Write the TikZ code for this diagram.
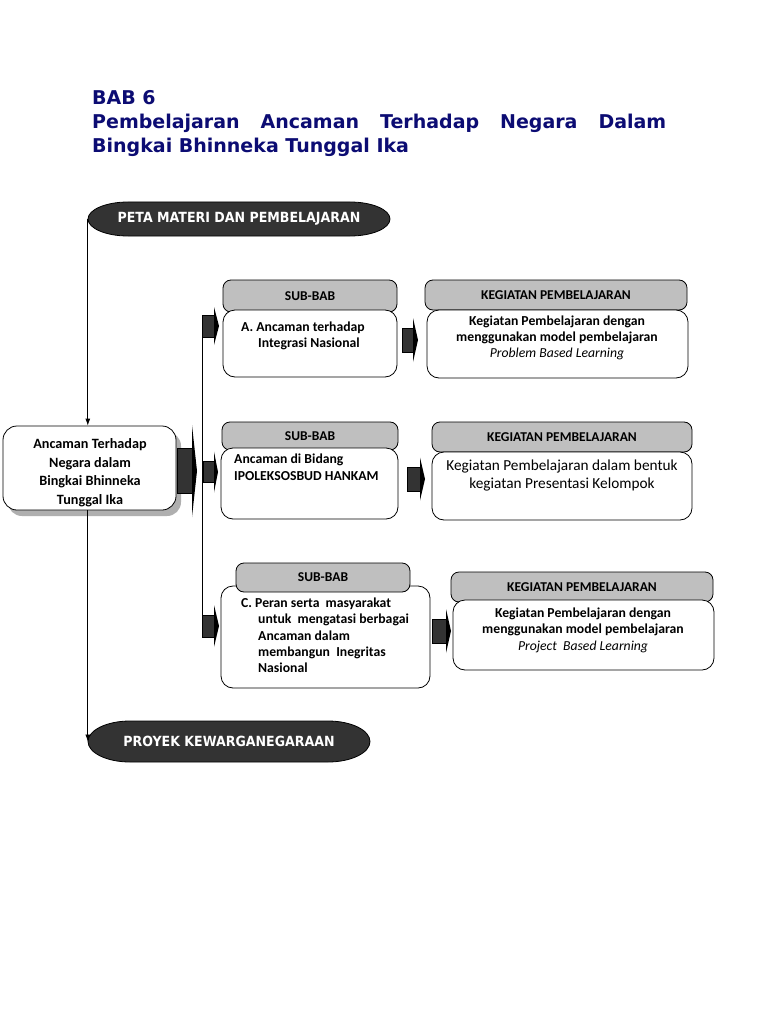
\documentclass[tikz,border=0pt]{standalone}
\usepackage{fontspec}
\setmainfont{Carlito}
\newfontfamily\tah[FakeStretch=0.9]{DejaVu Sans}
\newfontfamily\tahw{DejaVu Sans}
\usetikzlibrary{arrows.meta,calc,shadows}
\definecolor{navy}{RGB}{12,12,115}
\definecolor{hdr}{RGB}{191,191,191}
\definecolor{dk}{RGB}{51,51,51}
\definecolor{shd}{RGB}{175,175,175}
% block arrow: x0 x1 xtip cy shafthalf headhalf
\newcommand\blkarr[6]{%
  \filldraw[fill=dk,draw=black,line width=0.6pt] (#1,{#4-#5}) rectangle (#2,{#4+#5});
  \fill[black] (#2,{#4-#6}) .. controls ({#2+0.4*(#3-#2)},{#4-0.5*#6}) .. (#3,#4)
     .. controls ({#2+0.4*(#3-#2)},{#4+0.5*#6}) .. (#2,{#4+#6}) -- cycle;}
\tikzset{
  ttl/.style={font=\tahw\bfseries\fontsize{19}{23}\selectfont, text=navy, inner sep=0pt},
  captxt/.style={font=\tah\bfseries\fontsize{14}{16}\selectfont, text=white, inner sep=0pt},
  hdrbox/.style={draw=black, line width=0.8pt, fill=hdr, rounded corners=8pt, inner sep=0pt,
     font=\bfseries\fontsize{13.5}{15}\selectfont},
  cntbox/.style={draw=black, line width=0.8pt, fill=white, rounded corners=12pt, inner sep=0pt},
  boxtxt/.style={inner sep=0pt, font=\bfseries\fontsize{13.7}{16.3}\selectfont},
  conn/.style={draw=black, line width=0.8pt},
  tip/.style={-{Latex[length=7pt,width=5pt]}},
}
\begin{document}
\begin{tikzpicture}[x=1pt,y=-1pt]
\fill[white] (0,0) rectangle (768,1024);
\useasboundingbox (0,0) rectangle (768,1024);

% title
\node[ttl, anchor=base west] (t1) at (92,105) {BAB 6};
\node[ttl, anchor=base west] (t2) at (92,129) {\makebox[574pt][s]{Pembelajaran Ancaman Terhadap Negara Dalam}};
\node[ttl, anchor=base west] (t3) at (92,153) {Bingkai Bhinneka Tunggal Ika};

% capsule shapes
\filldraw[fill=dk, draw=black, line width=0.8pt]
  (128,202) -- (350,202) .. controls (372,202) and (390,209.6) .. (390,219)
  .. controls (390,228.4) and (372,236) .. (350,236) -- (128,236)
  .. controls (106,236) and (88,228.4) .. (88,219)
  .. controls (88,209.6) and (106,202) .. (128,202) -- cycle;
\node[captxt, minimum width=302pt, minimum height=34pt] (peta) at (239,219) {PETA MATERI DAN PEMBELAJARAN};

\filldraw[fill=dk, draw=black, line width=0.8pt]
  (130,721) -- (328,721) .. controls (351.2,721) and (370,730.2) .. (370,741.5)
  .. controls (370,752.8) and (351.2,762) .. (328,762) -- (130,762)
  .. controls (106.8,762) and (88,752.8) .. (88,741.5)
  .. controls (88,730.2) and (106.8,721) .. (130,721) -- cycle;
\node[captxt, minimum width=282pt, minimum height=41pt] (proyek) at (229,741.5) {PROYEK KEWARGANEGARAAN};

% main box
\node[draw=black, line width=0.8pt, fill=white, rounded corners=14pt, minimum width=173pt, minimum height=84pt,
  inner sep=0pt,
  drop shadow={shadow xshift=5pt, shadow yshift=-6pt, fill=shd, opacity=1}]
  (main) at (89.5,468) {};
\node[inner sep=0pt, align=center, font=\bfseries\fontsize{14.2}{18.5}\selectfont] (maint) at (90,472.5)
  {Ancaman Terhadap\\Negara dalam\\Bingkai Bhinneka\\Tunggal Ika};

% connectors
\draw[conn, tip] (peta.west) -- (peta.west |- main.north);
\draw[conn, tip] (peta.west |- main.south) -- (proyek.west);
\coordinate (sp1) at (202,315);
\coordinate (sp2) at (202,637);
\draw[conn] (sp1) -- (sp2);

% sub-bab 1 / kegiatan 1
\node[hdrbox, minimum width=174pt, minimum height=32pt] (sbh1) at (310,296) {SUB-BAB};
\node[cntbox, minimum width=174pt, minimum height=67pt] (sb1) at (310,343.5) {};
\node[boxtxt, anchor=north west, align=left] (sbt1) at (241,321.6) {A. Ancaman terhadap\\\hspace*{17pt}Integrasi Nasional};
\node[hdrbox, minimum width=262pt, minimum height=30pt] (kgh1) at (556,295) {KEGIATAN PEMBELAJARAN};
\node[cntbox, minimum width=261pt, minimum height=68pt] (kg1) at (557.5,344) {};
\node[boxtxt, anchor=north, align=center] (kgt1) at (557,315.2) {Kegiatan Pembelajaran dengan\\menggunakan model pembelajaran\\\mdseries\itshape Problem Based Learning};

% sub-bab 2 / kegiatan 2
\node[hdrbox, minimum width=176pt, minimum height=28pt] (sbh2) at (310,436) {SUB-BAB};
\node[cntbox, minimum width=177pt, minimum height=71pt] (sb2) at (309.5,483.5) {};
\node[boxtxt, anchor=north west, align=left, font=\bfseries\fontsize{13.7}{17}\selectfont] (sbt2) at (234,453.3) {Ancaman di Bidang\\IPOLEKSOSBUD HANKAM};
\node[hdrbox, minimum width=260pt, minimum height=30pt] (kgh2) at (562,437) {KEGIATAN PEMBELAJARAN};
\node[cntbox, minimum width=260pt, minimum height=68pt] (kg2) at (562,486) {};
\node[boxtxt, anchor=north, align=center, font=\fontsize{15.3}{18}\selectfont] (kgt2) at (562,459.5) {Kegiatan Pembelajaran dalam bentuk\\kegiatan Presentasi Kelompok};

% sub-bab 3 / kegiatan 3
\node[cntbox, minimum width=209pt, minimum height=102pt] (sb3) at (325.5,637) {};
\node[hdrbox, minimum width=174pt, minimum height=29pt] (sbh3) at (323,577.5) {SUB-BAB};
\node[boxtxt, anchor=north west, align=left] (sbt3) at (241,597.6) {C. Peran serta\ \ masyarakat\\\hspace*{17pt}untuk\ \ mengatasi berbagai\\\hspace*{17pt}Ancaman dalam\\\hspace*{17pt}membangun\ \ Inegritas\\\hspace*{17pt}Nasional};
\node[hdrbox, minimum width=262pt, minimum height=30pt] (kgh3) at (582,587) {KEGIATAN PEMBELAJARAN};
\node[cntbox, minimum width=261pt, minimum height=70pt] (kg3) at (583.5,635) {};
\node[boxtxt, anchor=north, align=center] (kgt3) at (583,607.6) {Kegiatan Pembelajaran dengan\\menggunakan model pembelajaran\\\mdseries\itshape Project\ \ Based Learning};

% block arrows
\blkarr{177}{192}{197}{471}{22.5}{46}
\blkarr{202}{214}{219}{326}{11}{19}
\blkarr{402}{413}{418}{340}{12}{22}
\blkarr{203}{214}{218}{472}{10.5}{20.5}
\blkarr{407}{420}{425}{479}{12}{21.5}
\blkarr{202}{214}{219}{626}{11}{21}
\blkarr{432}{446}{451}{631}{12}{22}
\end{tikzpicture}
\end{document}
